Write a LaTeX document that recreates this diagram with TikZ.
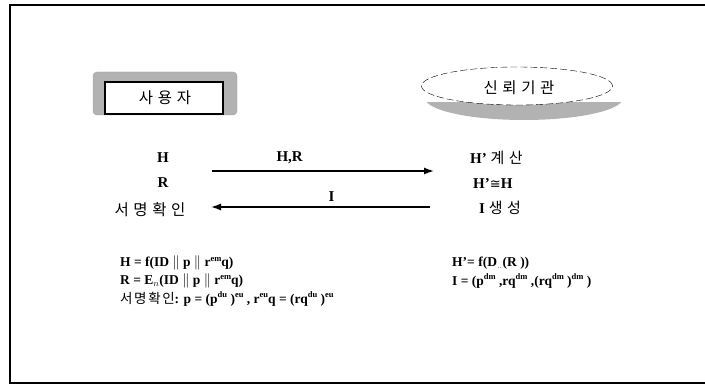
\documentclass[tikz,border=0pt]{standalone}
\usepackage{fontspec}
\setmainfont{Liberation Serif}
\newfontfamily\kr[LetterSpace=30]{Noto Sans CJK KR}
\newfontfamily\krs[LetterSpace=12]{Noto Sans CJK KR}
\newfontfamily\dvs{DejaVu Sans}
\usetikzlibrary{arrows.meta,shapes.geometric}
\newcommand{\pbar}{\ $\|$\ }
\newcommand{\sps}[1]{\raisebox{0.9ex}{\fontsize{8.5}{9}\selectfont #1}}
\tikzset{
  lbl/.style={font=\bfseries\fontsize{15}{17}\selectfont, inner sep=0pt},
  krlbl/.style={font=\kr\fontsize{15.5}{17}\selectfont, inner sep=0pt},
  frm/.style={font=\bfseries\fontsize{13.5}{15}\selectfont, inner sep=0pt, anchor=west},
  msg/.style={line width=1.4pt, -{Latex[length=10pt,width=7pt]}},
  shade/.style={fill=gray!60, draw=gray!75},
}
\begin{document}
\begin{tikzpicture}[x=1pt,y=-1pt]
\useasboundingbox (0,0) rectangle (705,385);
% frame
\draw[line width=1.4pt] (720,5) -- (10,5) -- (10,383) -- (720,383);
% user box
\draw[shade, rounded corners=4pt] (93,72) rectangle (237,115);
\draw[fill=white, line width=1.2pt] (105,82) rectangle (223,114);
\node[krlbl] (user) at (165,98) {사용자};
% trusted authority
\begin{scope}
\clip (400,103) rectangle (640,130);
\fill[gray!60] (524,98) ellipse [x radius=99, y radius=22];
\end{scope}
\node[draw, dash pattern=on 7pt off 3pt, ellipse, fill=white, minimum width=191pt, minimum height=38pt, inner sep=0pt] (ta) at (517,86) {};
\node[krlbl] (talbl) at (519,88) {신뢰기관};
% left column
\node[lbl] (h) at (163,158) {H};
\node[lbl] (r) at (163,183) {R};
\node[krlbl] (sv) at (150,210) {서명확인};
% right column
\node[lbl, anchor=west] (hc) at (470,158) {H’ {\kr\mdseries 계산}};
\node[lbl, anchor=west] (hq) at (473,184) {H'{\dvs\mdseries\fontsize{13}{15}\selectfont ≅}H};
\node[lbl, anchor=west] (ig) at (479,208) {I {\kr\mdseries 생성}};
% arrows
\coordinate (a1s) at (212,171);
\coordinate (a1e) at (434,171);
\coordinate (a2s) at (430,207);
\coordinate (a2e) at (211,207);
\draw[msg] (a1s) -- node[lbl, above=6pt, pos=0.35] (hr) {H,R} (a1e);
\draw[msg] (a2s) -- node[lbl, above=5pt, pos=0.45] (il) {I} (a2e);
% formulas left
\node[frm] (f1) at (120,263) {H = f(ID\pbar p\pbar r\sps{em}q)};
\node[frm] (f2) at (120,281) {R = E$_n$(ID\pbar p\pbar r\sps{em}q)};
\node[frm] (f3) at (120,299) {{\krs\mdseries 서명확인}: p = (p\sps{du} )\sps{eu} , r\sps{eu}q = (rq\sps{du} )\sps{eu}};
% formulas right
\node[frm] (g1) at (452,263) {H’= f(D$_{..}$(R ))};
\node[frm] (g2) at (452,281) {I = (p\sps{dm} ,rq\sps{dm} ,(rq\sps{dm} )\sps{dm} )};
\end{tikzpicture}
\end{document}
